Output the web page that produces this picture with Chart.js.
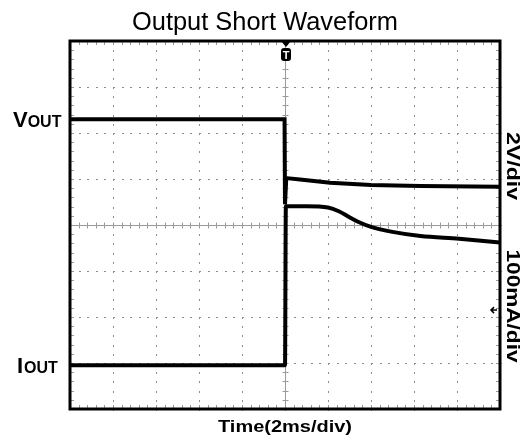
<!DOCTYPE html>
<html>
<head>
<meta charset="utf-8">
<script src="https://cdn.jsdelivr.net/npm/chart.js@4.4.1/dist/chart.umd.min.js"></script>
<style>
  html, body { margin: 0; padding: 0; background: #fff; }
  #wrap { width: 530px; height: 441px; }
</style>
</head>
<body>
<div id="wrap"><canvas id="scope"></canvas></div>
<script>
// time in ms (2 ms/div, trigger at 0), amplitude in divisions from bottom of screen
const voutTime = [-10, -0.02, 0, 0.06, 0.7, 2.1, 4, 6.3, 10];
const voutDiv  = [6.30, 6.30, 4.45, 5.02, 4.99, 4.92, 4.87, 4.85, 4.83];

const ioutTime = [-10, 0, 0.04, 1, 2, 2.5, 3, 3.5, 4, 5, 6.3, 8.1, 10];
const ioutDiv  = [0.95, 0.95, 4.41, 4.41, 4.38, 4.30, 4.17, 4.05, 3.96, 3.85, 3.76, 3.70, 3.62];

const xDivs = 10, yDivs = 8;

function pts(xs, ys) { return xs.map((x, i) => ({ x: x, y: ys[i] })); }

// draw text squeezed/stretched to a width
function fitText(ctx, text, cx, y, font, width) {
    ctx.save();
    ctx.font = font;
    const w = ctx.measureText(text).width;
    ctx.translate(cx, y);
    ctx.scale(width / w, 1);
    ctx.textAlign = 'center';
    ctx.fillText(text, 0, 0);
    ctx.restore();
}

const graticule = {
    id: 'graticule',
    beforeDatasetsDraw(chart) {
        const { ctx, chartArea: a, scales: { x, y } } = chart;
        const dx = (a.right - a.left) / xDivs, dy = (a.bottom - a.top) / yDivs;
        ctx.save();
        ctx.fillStyle = '#8c8c8c';
        // dotted division lines
        for (let i = 1; i < xDivs; i++) {
            const px = Math.round(a.left + i * dx);
            for (let j = 0; j <= yDivs * 5; j++) ctx.fillRect(px, Math.round(a.top + j * dy / 5), 1, 2);
        }
        for (let j = 1; j < yDivs; j++) {
            const py = Math.round(a.top + j * dy);
            for (let i = 0; i <= xDivs * 5; i++) ctx.fillRect(Math.round(a.left + i * dx / 5), py, 2, 1);
        }
        // centre axes with minor ticks
        ctx.strokeStyle = '#9a9a9a';
        ctx.lineWidth = 1;
        const cx = Math.round(x.getPixelForValue(0)) + 0.5;
        const cy = Math.round(y.getPixelForValue(yDivs / 2)) + 0.5;
        ctx.beginPath();
        for (let j = 0; j <= yDivs * 5; j++) {
            const py = Math.round(a.top + j * dy / 5) + 0.5;
            ctx.moveTo(cx - 3, py); ctx.lineTo(cx + 3, py);
            ctx.moveTo(a.left, py); ctx.lineTo(a.left + 4, py);
            ctx.moveTo(a.right - 4, py); ctx.lineTo(a.right, py);
        }
        for (let i = 0; i <= xDivs * 5; i++) {
            const px = Math.round(a.left + i * dx / 5) + 0.5;
            ctx.moveTo(px, cy - 3); ctx.lineTo(px, cy + 3);
            ctx.moveTo(px, a.top); ctx.lineTo(px, a.top + 4);
            ctx.moveTo(px, a.bottom - 4); ctx.lineTo(px, a.bottom);
        }
        ctx.moveTo(cx, a.top); ctx.lineTo(cx, a.bottom);
        ctx.moveTo(a.left, cy); ctx.lineTo(a.right, cy);
        ctx.stroke();
        ctx.restore();
    },
    afterDraw(chart) {
        const { ctx, chartArea: a, scales: { x, y } } = chart;
        ctx.save();
        // frame
        ctx.strokeStyle = '#000';
        ctx.lineWidth = 3;
        ctx.strokeRect(a.left, a.top, a.right - a.left, a.bottom - a.top);

        // trigger marker
        const tx = x.getPixelForValue(0) + 1;
        ctx.fillStyle = '#000';
        ctx.beginPath();
        ctx.moveTo(tx - 5, a.top); ctx.lineTo(tx + 5, a.top); ctx.lineTo(tx, a.top + 6);
        ctx.closePath(); ctx.fill();
        ctx.beginPath();
        ctx.roundRect(tx - 5, a.top + 7, 10, 13, 3);
        ctx.fill();
        ctx.fillStyle = '#fff';
        ctx.font = 'bold 11px "Liberation Sans", Arial, sans-serif';
        ctx.textAlign = 'center';
        ctx.fillText('T', tx, a.top + 18);

        // channel 2 ground arrow
        const gy = y.getPixelForValue(2.15);
        ctx.strokeStyle = '#000';
        ctx.lineWidth = 1.5;
        ctx.beginPath();
        ctx.moveTo(a.right - 3, gy); ctx.lineTo(a.right - 9, gy);
        ctx.moveTo(a.right - 6, gy - 3); ctx.lineTo(a.right - 9, gy); ctx.lineTo(a.right - 6, gy + 3);
        ctx.stroke();

        // texts
        ctx.fillStyle = '#000';
        fitText(ctx, 'Output Short Waveform', 265, 30, '25px "Liberation Sans", Arial, sans-serif', 266);
        fitText(ctx, 'Time(2ms/div)', x.getPixelForValue(0), 432, 'bold 16px "Liberation Sans", Arial, sans-serif', 134);

        ctx.textAlign = 'left';
        ctx.font = 'bold 22px "Liberation Sans", Arial, sans-serif';
        ctx.fillText('V', 13, 127);
        let w = ctx.measureText('V').width;
        ctx.font = 'bold 16px "Liberation Sans", Arial, sans-serif';
        ctx.fillText('OUT', 13 + w, 127);

        ctx.font = 'bold 22px "Liberation Sans", Arial, sans-serif';
        ctx.fillText('I', 17, 373);
        w = ctx.measureText('I').width;
        ctx.font = 'bold 16px "Liberation Sans", Arial, sans-serif';
        ctx.fillText('OUT', 17 + w + 1, 373);

        const rot = (text, cy, len) => {
            ctx.save();
            ctx.translate(512, cy);
            ctx.rotate(Math.PI / 2);
            ctx.textBaseline = 'middle';
            fitText(ctx, text, 0, 0, 'bold 18px "Liberation Sans", Arial, sans-serif', len);
            ctx.restore();
        };
        rot('2V/div', 166, 68);
        rot('100mA/div', 306, 113);
        ctx.restore();
    }
};

new Chart(document.getElementById('scope'), {
    type: 'line',
    data: {
        datasets: [
            { label: 'VOUT', data: pts(voutTime, voutDiv) },
            { label: 'IOUT', data: pts(ioutTime, ioutDiv), cubicInterpolationMode: 'monotone' }
        ]
    },
    options: {
        responsive: true,
        maintainAspectRatio: false,
        animation: false,
        parsing: false,
        layout: { padding: { left: 70, right: 30, top: 41, bottom: 32 } },
        elements: {
            line: { borderColor: '#000', borderWidth: 4, tension: 0, borderJoinStyle: 'miter' },
            point: { radius: 0 }
        },
        scales: {
            x: { type: 'linear', min: -10, max: 10, display: false },
            y: { type: 'linear', min: 0, max: yDivs, display: false }
        },
        plugins: { legend: { display: false }, title: { display: false }, tooltip: { enabled: false } }
    },
    plugins: [graticule]
});
</script>
</body>
</html>
